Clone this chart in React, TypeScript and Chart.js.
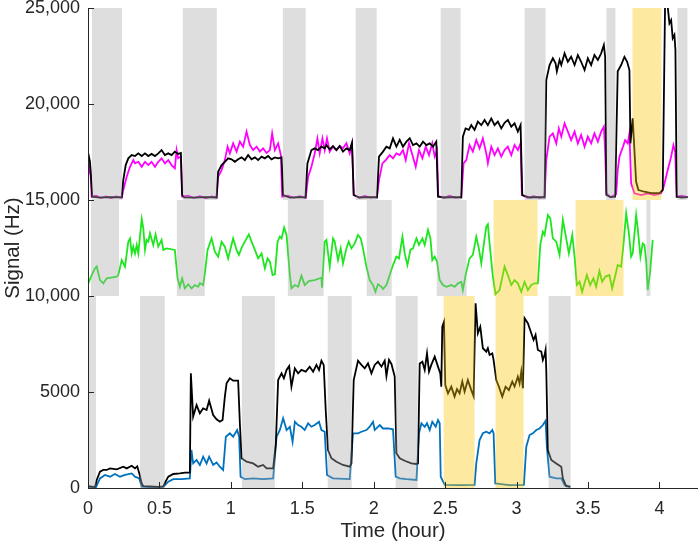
import { useEffect, useRef } from 'react';
import { Chart, registerables } from 'chart.js';

Chart.register(...registerables);

type Pt = [number, number];
type Band = [number, number, 'gray' | 'yellow'];

// Axis ticks
const xTicks = [0, 0.5, 1, 1.5, 2, 2.5, 3, 3.5, 4];
const xTickLabels = ['0', '0.5', '1', '1.5', '2', '2.5', '3', '3.5', '4'];
const yTicks = [0, 5000, 10000, 15000, 20000, 25000];
const yTickLabels = ['0', '5000', '10,000', '15,000', '20,000', '25,000'];

// Upper trace pair (time in hours, signal in Hz)
const upperBlack: Pt[] = [
  [0.002, 17430], [0.014, 16990], [0.03, 15170], [0.084, 15120], [0.154, 15150], [0.236, 15140],
  [0.247, 16040], [0.264, 16820], [0.282, 17170], [0.306, 17340], [0.329, 17290], [0.352, 17430],
  [0.376, 17290], [0.399, 17430], [0.422, 17290], [0.445, 17400], [0.469, 17290], [0.492, 17430],
  [0.515, 17600], [0.538, 17340], [0.562, 17430], [0.585, 17340], [0.608, 17520], [0.631, 17400],
  [0.65, 17450], [0.659, 15260], [0.673, 15140], [0.748, 15120], [0.818, 15150], [0.9, 15130],
  [0.911, 16470], [0.935, 16820], [0.958, 16990], [0.981, 17170], [1.005, 17120], [1.028, 16990],
  [1.051, 17120], [1.075, 17220], [1.098, 17080], [1.121, 17340], [1.145, 17120], [1.168, 17220],
  [1.191, 17080], [1.215, 17260], [1.238, 17170], [1.261, 17290], [1.285, 17120], [1.308, 17220],
  [1.331, 17170], [1.355, 17220], [1.366, 15260], [1.413, 15120], [1.483, 15150], [1.522, 15130],
  [1.536, 16900], [1.564, 17600], [1.587, 17690], [1.61, 17600], [1.634, 17780], [1.657, 17690],
  [1.669, 17860], [1.692, 17640], [1.715, 17810], [1.739, 17600], [1.762, 17810], [1.785, 17520],
  [1.809, 17690], [1.832, 17600], [1.848, 17980], [1.86, 15260], [1.902, 15130], [1.972, 15150],
  [2.023, 15130], [2.037, 17260], [2.065, 17520], [2.089, 17780], [2.112, 17690], [2.135, 18210],
  [2.159, 17780], [2.182, 18130], [2.205, 17780], [2.229, 18040], [2.252, 18210], [2.275, 17860],
  [2.299, 17950], [2.322, 17780], [2.345, 18040], [2.369, 17860], [2.392, 17950], [2.415, 17780],
  [2.438, 18040], [2.45, 15170], [2.497, 15130], [2.566, 15150], [2.613, 15130], [2.624, 18300],
  [2.643, 18730], [2.666, 18650], [2.683, 18900], [2.706, 18650], [2.729, 19080], [2.753, 18900],
  [2.776, 19170], [2.799, 18900], [2.823, 19250], [2.846, 18900], [2.869, 19080], [2.893, 18730],
  [2.916, 19020], [2.939, 19170], [2.963, 18820], [2.986, 18990], [3.009, 18560], [3.028, 18900],
  [3.04, 15260], [3.091, 15130], [3.161, 15150], [3.196, 15130], [3.208, 21250], [3.231, 22030],
  [3.254, 22380], [3.273, 22120], [3.282, 21700], [3.301, 22290], [3.313, 22030], [3.336, 22640],
  [3.359, 22200], [3.382, 22460], [3.406, 22030], [3.429, 22550], [3.452, 22200], [3.476, 21770],
  [3.499, 22380], [3.522, 22030], [3.545, 22550], [3.569, 22290], [3.592, 22640], [3.611, 23070],
  [3.62, 22460], [3.629, 15260], [3.657, 15150], [3.69, 15170], [3.708, 21700], [3.732, 22030],
  [3.755, 22460], [3.774, 22200], [3.79, 21770], [3.797, 17950], [3.813, 19250], [3.837, 15950],
  [3.853, 15520], [3.895, 15430], [3.942, 15360], [4.0, 15360], [4.023, 15520], [4.04, 25500],
  [4.058, 25070], [4.07, 24200], [4.082, 24370], [4.093, 23420], [4.105, 23600], [4.112, 22810],
  [4.121, 15170], [4.154, 15130], [4.198, 15150],
];

const upperMagenta: Pt[] = [
  [0.002, 16300], [0.014, 16910], [0.026, 15170], [0.056, 15220], [0.091, 15110], [0.126, 15190],
  [0.161, 15100], [0.196, 15180], [0.236, 15120], [0.247, 15520], [0.271, 16210], [0.294, 16730],
  [0.317, 17080], [0.329, 16910], [0.352, 16990], [0.376, 16730], [0.399, 16990], [0.422, 16820],
  [0.445, 16990], [0.469, 16730], [0.492, 16990], [0.515, 17170], [0.538, 16910], [0.562, 17080],
  [0.585, 16820], [0.608, 16650], [0.62, 17600], [0.631, 17170], [0.65, 17260], [0.659, 15170],
  [0.699, 15230], [0.741, 15110], [0.783, 15200], [0.825, 15100], [0.867, 15190], [0.9, 15120],
  [0.911, 16210], [0.935, 16560], [0.958, 17080], [0.977, 17780], [0.993, 17430], [1.016, 17950],
  [1.04, 17520], [1.063, 18040], [1.086, 17780], [1.11, 18560], [1.133, 17860], [1.156, 17600],
  [1.18, 17780], [1.203, 17520], [1.226, 17690], [1.25, 17450], [1.273, 17600], [1.289, 18470],
  [1.308, 17600], [1.331, 17950], [1.35, 17340], [1.359, 15170], [1.399, 15220], [1.441, 15110],
  [1.483, 15200], [1.524, 15110], [1.541, 16210], [1.564, 16730], [1.587, 17430], [1.606, 18210],
  [1.622, 17430], [1.641, 18210], [1.657, 17600], [1.673, 18210], [1.692, 17520], [1.715, 17780],
  [1.739, 17600], [1.762, 17810], [1.785, 17690], [1.809, 17950], [1.832, 17430], [1.848, 17950],
  [1.86, 15260], [1.895, 15110], [1.937, 15210], [1.979, 15120], [2.023, 15180], [2.037, 16040],
  [2.061, 16910], [2.084, 17080], [2.112, 17340], [2.135, 17170], [2.159, 17430], [2.182, 17340],
  [2.205, 17600], [2.224, 17080], [2.247, 17950], [2.271, 17340], [2.294, 16730], [2.317, 17600],
  [2.341, 17170], [2.364, 17780], [2.387, 17340], [2.41, 17950], [2.427, 17260], [2.443, 17600],
  [2.452, 15200], [2.49, 15110], [2.531, 15220], [2.573, 15110], [2.613, 15170], [2.629, 16910],
  [2.648, 17080], [2.671, 17860], [2.694, 17520], [2.718, 18120], [2.741, 17690], [2.764, 18210],
  [2.788, 17430], [2.799, 16910], [2.823, 17780], [2.846, 17340], [2.869, 17690], [2.893, 17260],
  [2.916, 17600], [2.939, 17780], [2.963, 17340], [2.986, 17860], [3.009, 17600], [3.028, 17950],
  [3.037, 15260], [3.077, 15110], [3.119, 15200], [3.161, 15110], [3.196, 15180], [3.208, 17080],
  [3.231, 18300], [3.254, 18470], [3.278, 17950], [3.296, 18730], [3.313, 18300], [3.336, 18990],
  [3.359, 18560], [3.382, 18120], [3.406, 18560], [3.429, 17950], [3.452, 18380], [3.476, 17780],
  [3.499, 18300], [3.522, 17950], [3.545, 18470], [3.569, 18040], [3.592, 18560], [3.611, 18820],
  [3.62, 17520], [3.629, 15350], [3.657, 15150], [3.697, 15300], [3.708, 16560], [3.72, 17260],
  [3.745, 17780], [3.76, 18120], [3.778, 17950], [3.79, 18470], [3.802, 15870], [3.825, 15350],
  [3.872, 15260], [3.918, 15350], [3.965, 15260], [4.012, 15350], [4.03, 15690], [4.058, 16560],
  [4.082, 17260], [4.098, 17860], [4.11, 17520], [4.121, 15170], [4.154, 15220], [4.198, 15150],
];

// Middle trace
const middleGreen: Pt[] = [
  [0.002, 10660], [0.026, 11090], [0.049, 11440], [0.061, 11530], [0.084, 10830], [0.107, 10660],
  [0.131, 10920], [0.201, 11010], [0.212, 11090], [0.236, 11870], [0.259, 11530], [0.282, 12830],
  [0.294, 13000], [0.306, 12220], [0.317, 12570], [0.329, 12220], [0.341, 12660], [0.352, 12220],
  [0.376, 14010], [0.387, 13530], [0.399, 12400], [0.41, 12920], [0.422, 12830], [0.434, 13270],
  [0.457, 12660], [0.473, 13210], [0.492, 12570], [0.515, 12920], [0.527, 12400], [0.55, 12480],
  [0.608, 12400], [0.627, 10920], [0.643, 10480], [0.659, 10920], [0.678, 10400], [0.701, 10610],
  [0.725, 10400], [0.748, 10570], [0.771, 10480], [0.783, 10660], [0.806, 10570], [0.818, 11180],
  [0.837, 12400], [0.865, 13000], [0.888, 12310], [0.911, 12050], [0.935, 12830], [0.958, 12570],
  [0.981, 11960], [1.016, 13000], [1.04, 12400], [1.056, 12140], [1.079, 12570], [1.098, 12830],
  [1.126, 13210], [1.145, 12830], [1.168, 12400], [1.191, 11960], [1.215, 12220], [1.238, 11440],
  [1.257, 11960], [1.273, 11790], [1.292, 11090], [1.308, 11130], [1.327, 12830], [1.343, 13090],
  [1.355, 13000], [1.373, 13560], [1.39, 13180], [1.413, 11090], [1.424, 10400], [1.448, 10570],
  [1.471, 10480], [1.494, 11060], [1.517, 10570], [1.545, 10780], [1.587, 10830], [1.634, 10950],
  [1.638, 10430], [1.657, 12830], [1.669, 12920], [1.692, 11530], [1.715, 13000], [1.727, 12830],
  [1.75, 11870], [1.769, 12480], [1.785, 11700], [1.809, 12480], [1.825, 12830], [1.844, 12480],
  [1.867, 12740], [1.89, 13180], [1.909, 13000], [1.925, 12480], [1.949, 11530], [1.972, 10830],
  [1.995, 10570], [2.012, 10220], [2.03, 10610], [2.054, 10480], [2.065, 10360], [2.089, 10570],
  [2.112, 11090], [2.135, 11610], [2.159, 12050], [2.177, 11960], [2.201, 13090], [2.217, 12220],
  [2.236, 11610], [2.257, 12400], [2.275, 12480], [2.299, 13000], [2.317, 12660], [2.341, 13000],
  [2.357, 12660], [2.38, 13440], [2.397, 13000], [2.41, 11870], [2.427, 12050], [2.443, 11790],
  [2.462, 10830], [2.485, 10570], [2.508, 10480], [2.543, 10570], [2.566, 10480], [2.59, 10660],
  [2.613, 10740], [2.624, 10310], [2.643, 11090], [2.671, 11960], [2.694, 12140], [2.718, 13090],
  [2.736, 12480], [2.753, 11700], [2.776, 13000], [2.788, 13610], [2.799, 13730], [2.811, 12740],
  [2.834, 11010], [2.853, 10100], [2.881, 10310], [2.916, 11530], [2.939, 11090], [2.963, 10570],
  [2.986, 10830], [3.009, 10660], [3.033, 10220], [3.056, 10740], [3.079, 10310], [3.103, 10570],
  [3.126, 10660], [3.149, 10660], [3.166, 12660], [3.184, 13350], [3.196, 13180], [3.219, 14220],
  [3.236, 14050], [3.254, 13000], [3.278, 12830], [3.301, 12140], [3.324, 13960], [3.343, 13180],
  [3.366, 12220], [3.39, 13180], [3.406, 12050], [3.422, 10570], [3.441, 10740], [3.459, 10220],
  [3.492, 11090], [3.515, 10570], [3.538, 10920], [3.557, 10480], [3.58, 11300], [3.599, 10740],
  [3.622, 11010], [3.65, 11090], [3.669, 10400], [3.692, 11090], [3.708, 11610], [3.732, 11530],
  [3.748, 12660], [3.767, 14310], [3.785, 13350], [3.802, 12050], [3.813, 12220], [3.837, 14220],
  [3.848, 13530], [3.867, 12050], [3.883, 12740], [3.895, 12660], [3.907, 11870], [3.918, 10310],
  [3.935, 11270], [3.953, 12920],
];

// Lower trace pair
const lowerBlack: Pt[] = [
  [0.002, 100], [0.049, 50], [0.061, 420], [0.084, 850], [0.107, 940], [0.131, 940], [0.154, 1020],
  [0.201, 970], [0.247, 1110], [0.271, 1020], [0.306, 1160], [0.329, 1020], [0.345, 1130],
  [0.359, 760], [0.376, 240], [0.387, 100], [0.434, 80], [0.49, 60], [0.527, 80], [0.543, 330],
  [0.562, 590], [0.597, 730], [0.643, 760], [0.678, 800], [0.713, 800], [0.72, 5970], [0.736, 3710],
  [0.76, 4320], [0.783, 3890], [0.806, 4150], [0.83, 4060], [0.848, 4550], [0.876, 3800],
  [0.9, 3580], [0.923, 3450], [0.942, 3540], [0.958, 4760], [0.97, 5450], [0.993, 5710],
  [1.016, 5590], [1.051, 5590], [1.063, 3370], [1.075, 1550], [1.11, 1370], [1.156, 1280],
  [1.191, 1110], [1.226, 1200], [1.25, 1020], [1.296, 1020], [1.315, 2330], [1.331, 5620],
  [1.355, 5970], [1.371, 5710], [1.39, 6150], [1.408, 6350], [1.424, 5280], [1.448, 6230],
  [1.471, 5970], [1.494, 6150], [1.524, 6060], [1.552, 6320], [1.576, 6060], [1.599, 6410],
  [1.617, 6150], [1.634, 6630], [1.65, 6410], [1.664, 4060], [1.68, 1980], [1.704, 1550],
  [1.739, 1370], [1.785, 1200], [1.832, 1110], [1.844, 1280], [1.86, 5620], [1.89, 6630],
  [1.914, 6410], [1.937, 6230], [1.96, 6490], [1.984, 5970], [2.007, 6410], [2.03, 6580],
  [2.054, 6320], [2.077, 6630], [2.089, 5830], [2.107, 6670], [2.124, 6460], [2.147, 5800],
  [2.159, 1810], [2.182, 1550], [2.217, 1420], [2.264, 1280], [2.299, 1250], [2.31, 1280],
  [2.322, 6490], [2.341, 6580], [2.357, 6150], [2.373, 7010], [2.387, 6060], [2.403, 6410],
  [2.427, 6840], [2.45, 6320], [2.466, 5970], [2.473, 5280], [2.48, 8400], [2.492, 8660],
  [2.501, 5360], [2.52, 4930], [2.543, 5280], [2.566, 4760], [2.583, 5150], [2.601, 4930],
  [2.62, 5540], [2.636, 5020], [2.659, 5620], [2.683, 5100], [2.699, 4790], [2.713, 9620],
  [2.729, 8060], [2.746, 8400], [2.764, 7280], [2.788, 7100], [2.799, 7280], [2.811, 6930],
  [2.83, 7010], [2.839, 6670], [2.858, 5620], [2.876, 5280], [2.9, 4760], [2.923, 5280],
  [2.946, 5100], [2.97, 5540], [2.986, 5280], [3.009, 5800], [3.021, 5450], [3.033, 6060],
  [3.044, 5190], [3.056, 8840], [3.079, 8580], [3.103, 8060], [3.119, 7710], [3.133, 7970],
  [3.149, 7190], [3.173, 7100], [3.184, 6670], [3.196, 6930], [3.203, 7190], [3.208, 6150],
  [3.219, 1980], [3.243, 1460], [3.278, 1280], [3.313, 1110], [3.324, 500], [3.347, 100],
  [3.376, 70],
];

const lowerBlue: Pt[] = [
  [0.002, 50], [0.056, 50], [0.084, 500], [0.119, 680], [0.154, 590], [0.189, 730], [0.224, 590],
  [0.259, 680], [0.306, 760], [0.329, 590], [0.359, 500], [0.376, 70], [0.434, 50], [0.527, 60],
  [0.562, 330], [0.597, 460], [0.655, 460], [0.713, 500], [0.724, 1980], [0.736, 1280],
  [0.76, 1460], [0.783, 1200], [0.806, 1630], [0.83, 1280], [0.848, 1630], [0.876, 1200],
  [0.9, 1330], [0.923, 1110], [0.946, 940], [0.965, 2670], [0.993, 2850], [1.016, 2670],
  [1.044, 3020], [1.058, 2670], [1.068, 590], [1.098, 460], [1.156, 500], [1.226, 460],
  [1.296, 500], [1.32, 2670], [1.343, 3020], [1.366, 3630], [1.39, 3020], [1.413, 3190],
  [1.432, 2410], [1.448, 3450], [1.471, 3280], [1.494, 3190], [1.517, 3020], [1.541, 3370],
  [1.564, 3190], [1.587, 3280], [1.617, 3450], [1.634, 3020], [1.657, 2930], [1.673, 680],
  [1.715, 500], [1.832, 460], [1.855, 2850], [1.89, 2850], [1.914, 2930], [1.949, 3020],
  [1.972, 3190], [1.995, 3450], [2.007, 3020], [2.042, 3280], [2.065, 3100], [2.1, 3100],
  [2.135, 3060], [2.154, 590], [2.182, 500], [2.229, 460], [2.299, 420], [2.317, 2850],
  [2.334, 3370], [2.357, 3190], [2.373, 3370], [2.392, 3020], [2.41, 3450], [2.434, 3190],
  [2.45, 3540], [2.462, 3370], [2.469, 590], [2.497, 160], [2.601, 150], [2.706, 160],
  [2.718, 1280], [2.741, 2500], [2.764, 2850], [2.788, 2930], [2.811, 2850], [2.83, 3020],
  [2.839, 2850], [2.851, 240], [2.951, 150], [3.051, 160], [3.068, 2150], [3.091, 2760],
  [3.114, 2850], [3.138, 3020], [3.161, 3100], [3.184, 3280], [3.203, 3500], [3.212, 2150],
  [3.231, 590], [3.278, 500], [3.313, 500], [3.336, 160], [3.376, 50],
];

// Shaded intervals per panel: [start hour, end hour, kind]
const upperRange: [number, number] = [15000, 25000];
const upperBands: Band[] = [
  [0.028, 0.238, 'gray'], [0.664, 0.902, 'gray'], [1.364, 1.524, 'gray'], [1.874, 2.021, 'gray'],
  [2.469, 2.608, 'gray'], [3.056, 3.203, 'gray'], [3.629, 3.692, 'gray'], [3.811, 4.014, 'yellow'],
  [4.126, 4.196, 'gray'],
];
const middleRange: [number, number] = [10000, 15000];
const middleBands: Band[] = [
  [0.021, 0.217, 'gray'], [0.622, 0.818, 'gray'], [1.399, 1.65, 'gray'], [1.951, 2.126, 'gray'],
  [2.441, 2.65, 'gray'], [2.839, 3.147, 'yellow'], [3.413, 3.748, 'yellow'], [3.909, 3.937, 'gray'],
];
const lowerRange: [number, number] = [0, 10000];
const lowerBands: Band[] = [
  [0.0, 0.056, 'gray'], [0.364, 0.538, 'gray'], [1.077, 1.308, 'gray'], [1.678, 1.846, 'gray'],
  [2.154, 2.308, 'gray'], [2.49, 2.706, 'yellow'], [2.853, 3.049, 'yellow'], [3.224, 3.378, 'gray'],
];

const FONT = '"Liberation Sans", Arial, Helvetica, sans-serif';
const TEXT = '#262626';
const GRAY_FILL = 'rgba(168,168,168,0.38)';
const YELLOW_FILL = 'rgba(250,197,5,0.38)';

const panels = [
  { range: upperRange, bands: upperBands },
  { range: middleRange, bands: middleBands },
  { range: lowerRange, bands: lowerBands },
];

const toXY = (pts: Pt[]) => pts.map(([x, y]) => ({ x, y }));

const overlayPlugin = {
  id: 'overlays',
  afterDatasetsDraw(chart: any) {
    const { ctx, chartArea: a, scales } = chart;
    const xs = scales.x;
    const ys = scales.y;
    ctx.save();
    ctx.beginPath();
    ctx.rect(a.left, a.top, a.right - a.left, a.bottom - a.top);
    ctx.clip();
    for (const p of panels) {
      const yTop = ys.getPixelForValue(p.range[1]);
      const yBot = ys.getPixelForValue(p.range[0]);
      for (const [t0, t1, kind] of p.bands) {
        const x0 = xs.getPixelForValue(t0);
        const x1 = xs.getPixelForValue(t1);
        ctx.fillStyle = kind === 'gray' ? GRAY_FILL : YELLOW_FILL;
        ctx.fillRect(x0, yTop, x1 - x0, yBot - yTop);
      }
    }
    ctx.restore();
  },
  afterDraw(chart: any) {
    const { ctx, chartArea: a, scales } = chart;
    const xs = scales.x;
    const ys = scales.y;
    ctx.save();
    ctx.strokeStyle = TEXT;
    ctx.lineWidth = 1;
    ctx.beginPath();
    ctx.moveTo(Math.round(a.left) + 0.5, a.top);
    ctx.lineTo(Math.round(a.left) + 0.5, Math.round(a.bottom) + 0.5);
    ctx.lineTo(a.right, Math.round(a.bottom) + 0.5);
    // inward tick marks
    for (const v of xTicks) {
      const px = Math.round(xs.getPixelForValue(v)) + 0.5;
      ctx.moveTo(px, a.bottom);
      ctx.lineTo(px, a.bottom - 6);
    }
    for (const v of yTicks) {
      const py = Math.round(ys.getPixelForValue(v)) + 0.5;
      ctx.moveTo(a.left, py);
      ctx.lineTo(a.left + 6, py);
    }
    ctx.stroke();

    ctx.fillStyle = TEXT;
    ctx.font = `20.5px ${FONT}`;
    ctx.textAlign = 'center';
    ctx.textBaseline = 'middle';
    ctx.fillText('Time (hour)', (a.left + a.right) / 2, 531);
    ctx.translate(13, (a.top + a.bottom) / 2);
    ctx.rotate(-Math.PI / 2);
    ctx.fillText('Signal (Hz)', 0, 0);
    ctx.restore();
  },
};

export default function App() {
  const canvasRef = useRef<HTMLCanvasElement | null>(null);

  useEffect(() => {
    const canvas = canvasRef.current;
    if (!canvas) return;
    Chart.defaults.font.family = FONT;

    const line = (data: Pt[], color: string, order: number) => ({
      data: toXY(data),
      borderColor: color,
      backgroundColor: color,
      borderWidth: 1.8,
      pointRadius: 0,
      tension: 0,
      fill: false,
      order,
    });

    const chart = new Chart(canvas, {
      type: 'line',
      data: {
        datasets: [
          line(upperBlack, '#000000', 0),
          line(upperMagenta, '#ff00ff', 1),
          line(middleGreen, '#1ee61e', 2),
          line(lowerBlack, '#000000', 3),
          line(lowerBlue, '#0072bd', 4),
        ] as any,
      },
      options: {
        animation: false,
        responsive: false,
        devicePixelRatio: 1,
        parsing: false,
        normalized: true,
        events: [],
        layout: { padding: { top: 8, right: 2, left: 0, bottom: 0 } },
        plugins: { legend: { display: false }, tooltip: { enabled: false }, title: { display: false } },
        scales: {
          x: {
            type: 'linear',
            min: 0,
            max: 4.27,
            grid: { display: false, drawTicks: false },
            border: { display: false },
            ticks: {
              color: TEXT,
              font: { size: 18, family: FONT },
              padding: 10,
              maxRotation: 0,
              autoSkip: false,
              callback: (v: any) => {
                const i = xTicks.indexOf(Number(v));
                return i >= 0 ? xTickLabels[i] : '';
              },
            },
            afterBuildTicks: (s: any) => {
              s.ticks = xTicks.map((value) => ({ value }));
            },
            afterFit: (s: any) => {
              s.height = 60;
              s.paddingLeft = 0;
              s.paddingRight = 0;
            },
          },
          y: {
            type: 'linear',
            min: 0,
            max: 25000,
            grid: { display: false, drawTicks: false },
            border: { display: false },
            ticks: {
              color: TEXT,
              font: { size: 18, family: FONT },
              padding: 8,
              autoSkip: false,
              callback: (v: any) => {
                const i = yTicks.indexOf(Number(v));
                return i >= 0 ? yTickLabels[i] : '';
              },
            },
            afterBuildTicks: (s: any) => {
              s.ticks = yTicks.map((value) => ({ value }));
            },
            afterFit: (s: any) => {
              s.width = 88;
              s.paddingTop = 0;
              s.paddingBottom = 0;
            },
          },
        },
      } as any,
      plugins: [overlayPlugin],
    });

    return () => chart.destroy();
  }, []);

  return (
    <div style={{ position: 'fixed', left: 0, top: 0, width: 700, height: 548, background: '#ffffff' }}>
      <canvas ref={canvasRef} width={700} height={548} style={{ display: 'block' }} />
    </div>
  );
}
